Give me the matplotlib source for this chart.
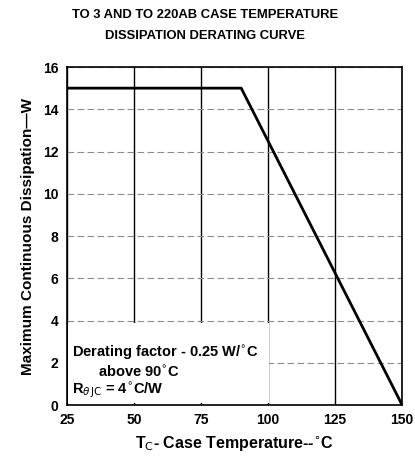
import numpy as np
import matplotlib.pyplot as plt
from matplotlib.patches import Rectangle

# --- dados da curva ---
temp_c = [25, 90, 150]
power_w = [15, 15, 0]

x_ticks = [25, 50, 75, 100, 125, 150]
y_ticks = [0, 2, 4, 6, 8, 10, 12, 14, 16]

plt.rcParams["font.family"] = ["Liberation Sans", "DejaVu Sans"]

fig = plt.figure(figsize=(4.15, 4.59), dpi=100)
ax = fig.add_axes([0.161, 0.1176, 0.808, 0.7364])

ax.plot(temp_c, power_w, color="black", lw=2, zorder=3)

ax.set_xlim(25, 150)
ax.set_ylim(0, 16)
ax.set_xticks(x_ticks)
ax.set_yticks(y_ticks)
ax.tick_params(length=0, labelsize=10, pad=6)
for lbl in ax.get_xticklabels() + ax.get_yticklabels():
    lbl.set_fontweight("bold")

# grade
ax.set_axisbelow(True)
ax.grid(True, axis="x", color="black", lw=1.0)
ax.grid(True, axis="y", color="0.55", lw=0.8, ls=(0, (6, 3)))
for s in ax.spines.values():
    s.set_linewidth(1.2)

# caixa do texto cobre a grade
ax.add_patch(Rectangle((25.3, 0.1), 75, 3.8, facecolor="white", edgecolor="none", zorder=1))

ax.text(27.0, 2.45, "Derating factor - 0.25 W/$^{\\circ}$C", fontsize=10.5, fontweight="bold", va="center")
ax.text(36.5, 1.55, "above 90$^{\\circ}$C", fontsize=10.5, fontweight="bold", va="center")
ax.text(27.0, 0.7, "R$_{\\theta\\,\\mathrm{JC}}$ = 4$^{\\circ}$C/W", fontsize=10.5, fontweight="bold", va="center")

fig.text(0.494, 0.968, "TO 3 AND TO 220AB CASE TEMPERATURE", ha="center", va="center",
         fontsize=9.4, fontweight="bold")
fig.text(0.494, 0.922, "DISSIPATION DERATING CURVE", ha="center", va="center",
         fontsize=9.4, fontweight="bold")

ax.set_xlabel("T$_\\mathrm{C}$- Case Temperature--$^{\\circ}$C", fontsize=11.5, fontweight="bold", labelpad=5)
ax.set_ylabel("Maximum Continuous Dissipation\u2014W", fontsize=11, fontweight="bold", labelpad=6)

fig.savefig("out.png", dpi=100)
